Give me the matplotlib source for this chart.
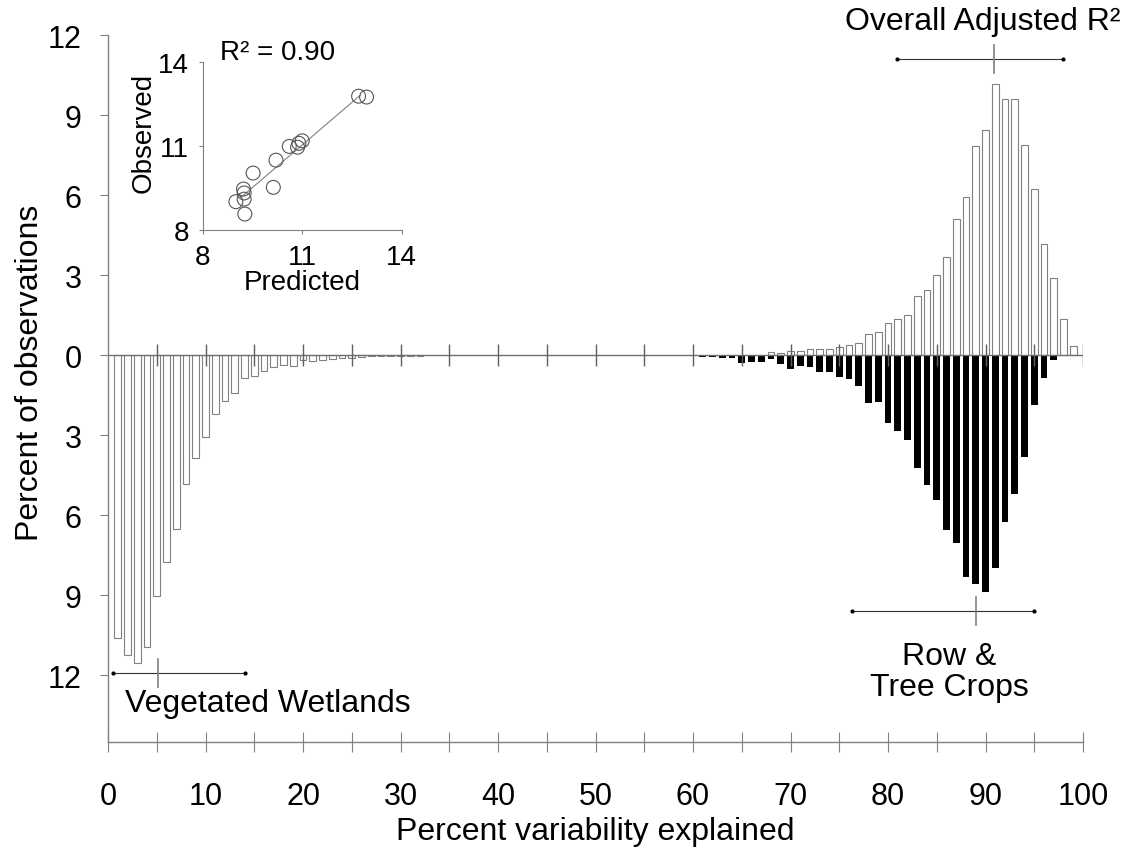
import numpy as np
import matplotlib
matplotlib.use("Agg")
import matplotlib.pyplot as plt
from matplotlib.ticker import MultipleLocator, FuncFormatter

plt.rcParams['font.family'] = ['Liberation Sans', 'DejaVu Sans']

# Percent of observations per 1-unit bin of percent variability explained
wetland_bins = np.arange(1, 33)
wetland_pct = [10.61, 11.23, 11.53, 10.95, 9.04, 7.74, 6.53, 4.82, 3.85, 3.05,
               2.19, 1.73, 1.40, 0.84, 0.80, 0.61, 0.43, 0.38, 0.39, 0.20,
               0.22, 0.19, 0.15, 0.11, 0.09, 0.07, 0.05, 0.04, 0.03, 0.03,
               0.02, 0.02]

crop_bins = np.arange(61, 99)
crop_pct = [0.07, 0.07, 0.10, 0.10, 0.29, 0.26, 0.24, 0.16, 0.35, 0.51,
            0.39, 0.46, 0.64, 0.62, 0.81, 0.91, 1.17, 1.79, 1.74, 2.56,
            2.85, 3.17, 4.24, 4.85, 5.42, 6.57, 7.03, 8.30, 8.59, 8.86,
            7.96, 6.25, 5.19, 3.80, 1.86, 0.87, 0.20, 0.04]

overall_bins = np.arange(68, 100)
overall_pct = [0.13, 0.09, 0.16, 0.16, 0.24, 0.24, 0.24, 0.31, 0.38, 0.46,
               0.81, 0.86, 1.21, 1.36, 1.50, 2.21, 2.45, 3.00, 3.67, 5.11,
               5.94, 7.85, 8.45, 10.18, 9.61, 9.59, 7.89, 6.23, 4.18, 2.90,
               1.34, 0.33]

# Summary ranges: low, central and high values, and the level they sit at
range_low = [80.9, 76.3, 0.5]
range_mid = [90.9, 89.0, 5.1]
range_high = [97.9, 95.0, 14.1]
range_level = [11.1, -9.6, -11.9]

# Inset: observed vs predicted
predicted = [9.00, 9.25, 9.25, 9.23, 9.27, 9.52, 10.13, 10.21, 10.61, 10.86,
             10.90, 11.00, 12.70, 12.94]
observed = [9.01, 9.10, 9.32, 9.46, 8.57, 10.03, 9.52, 10.49, 10.98, 10.95,
            11.09, 11.18, 12.77, 12.74]
fit_span = [9.15, 12.75]
r_squared = 0.90

GRAY = '#808080'
W, H = 1134, 853

fig = plt.figure(figsize=(W / 100, H / 100), dpi=100)
ax = fig.add_axes([108 / W, 1 - 743 / H, 975 / W, 707 / H])

bar_w = 0.68
ax.bar(overall_bins, overall_pct, width=bar_w, facecolor='white',
       edgecolor=GRAY, linewidth=0.8, zorder=2)
ax.bar(wetland_bins, -np.asarray(wetland_pct), width=bar_w, facecolor='white',
       edgecolor=GRAY, linewidth=0.8, zorder=2)
ax.bar(crop_bins, -np.asarray(crop_pct), width=bar_w, color='black',
       linewidth=0, zorder=3)

# zero line with its own tick marks
ax.plot([0, 100], [0, 0], color='#707070', lw=1.0, zorder=4)
ax.vlines(np.arange(5, 101, 5), -0.41, 0.41, color='#606060', lw=1.0, zorder=4)

ax.set_xlim(0, 100)
ax.set_ylim(-14.5, 12)
for s in ('top', 'right'):
    ax.spines[s].set_visible(False)
for s in ('left', 'bottom'):
    ax.spines[s].set_color(GRAY)
    ax.spines[s].set_linewidth(1.0)

ax.xaxis.set_major_locator(MultipleLocator(10))
ax.xaxis.set_minor_locator(MultipleLocator(5))
ax.tick_params(axis='x', which='both', direction='inout', length=14.4,
               width=0.8, color=GRAY, pad=21, labelsize=22)
ax.set_yticks(np.arange(-12, 13, 3))
ax.yaxis.set_major_formatter(FuncFormatter(lambda v, p: f"{abs(v):.0f}"))
ax.tick_params(axis='y', direction='out', length=6, width=0.8, color=GRAY,
               pad=13, labelsize=22)

# summary range markers
for lo, mid, hi, lvl in zip(range_low, range_mid, range_high, range_level):
    ax.plot([lo, hi], [lvl, lvl], color='#333333', lw=0.8, zorder=5)
    ax.plot([lo, hi], [lvl, lvl], ls='none', marker='o', ms=2, color='black',
            zorder=5)
    ax.plot([mid, mid], [lvl - 0.52, lvl + 0.52], color=GRAY, lw=1.2, zorder=5)

ax.text(89.7, 12.52, "Overall Adjusted R²", ha='center', va='center', fontsize=23)
ax.text(86.3, -11.86, "Row &\nTree Crops", ha='center', va='center',
        fontsize=23, linespacing=1.05)
ax.text(16.36, -13.03, "Vegetated Wetlands", ha='center', va='center', fontsize=23)

ax.text(0.5, -0.126, "Percent variability explained", transform=ax.transAxes,
        ha='center', va='center', fontsize=23)
ax.text(-0.08, 0.523, "Percent of observations", transform=ax.transAxes,
        rotation=90, ha='center', va='center', fontsize=23)

# inset scatter
axin = fig.add_axes([202.7 / W, 1 - 231 / H, 199 / W, 168.3 / H])
axin.patch.set_alpha(0)
axin.set_xlim(8, 14)
axin.set_ylim(8, 14)
axin.set_xticks([8, 11, 14])
axin.set_yticks([8, 11, 14])
for s in ('top', 'right'):
    axin.spines[s].set_visible(False)
for s in ('left', 'bottom'):
    axin.spines[s].set_color(GRAY)
    axin.spines[s].set_linewidth(0.8)
axin.tick_params(direction='out', length=3, width=0.8, color=GRAY,
                 labelsize=20, pad=7)

axin.scatter(predicted, observed, s=100, facecolors='none', edgecolors='#555555',
             linewidths=0.8, zorder=3)
coef = np.polyfit(predicted, observed, 1)
xs = np.asarray(fit_span)
axin.plot(xs, np.polyval(coef, xs), color=GRAY, lw=0.8, zorder=2)

axin.text(0.087, 1.056, f"R² = {r_squared:.2f}", transform=axin.transAxes,
          ha='left', va='center', fontsize=20)
axin.text(0.5, -0.309, "Predicted", transform=axin.transAxes,
          ha='center', va='center', fontsize=20)
axin.text(-0.298, 0.582, "Observed", transform=axin.transAxes, rotation=90,
          ha='center', va='center', fontsize=20)

fig.savefig("out.png", dpi=100)
